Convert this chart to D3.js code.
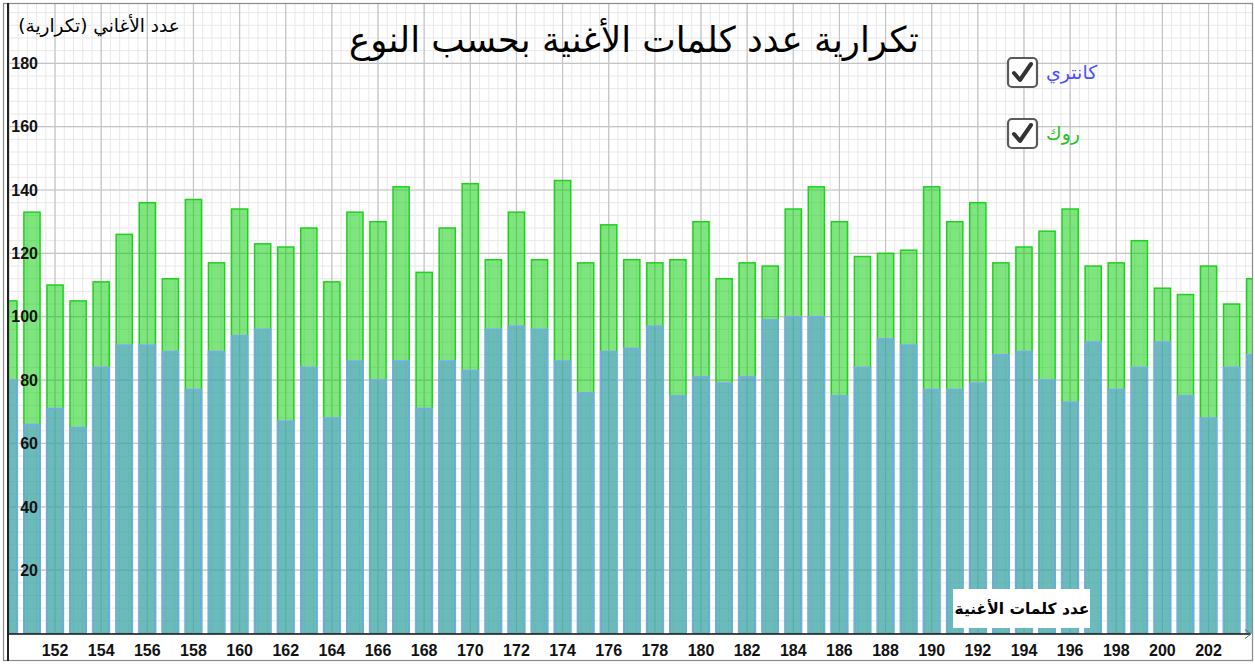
<!DOCTYPE html>
<html>
<head>
<meta charset="utf-8">
<script src="https://cdn.jsdelivr.net/npm/d3@7"></script>
<style>
  body { margin: 0; background: #fff; }
  svg { display: block; }
</style>
</head>
<body>
<svg id="chart"></svg>
<script>
const width = 1255;
const height = 664;

// word counts (x categories)
const wordCounts = [150, 151, 152, 153, 154, 155, 156, 157, 158, 159, 160, 161, 162, 163, 164,
  165, 166, 167, 168, 169, 170, 171, 172, 173, 174, 175, 176, 177, 178, 179, 180, 181, 182,
  183, 184, 185, 186, 187, 188, 189, 190, 191, 192, 193, 194, 195, 196, 197, 198, 199, 200,
  201, 202, 203, 204];

// frequency, rock songs (green)
const rock = [105, 133, 110, 105, 111, 126, 136, 112, 137, 117, 134, 123, 122, 128, 111,
  133, 130, 141, 114, 128, 142, 118, 133, 118, 143, 117, 129, 118, 117, 118, 130, 112, 117,
  116, 134, 141, 130, 119, 120, 121, 141, 130, 136, 117, 122, 127, 134, 116, 117, 124, 109,
  107, 116, 104, 112];

// frequency, country songs (blue)
const country = [80, 66, 71, 65, 84, 91, 91, 89, 77, 89, 94, 96, 67, 84, 68,
  86, 80, 86, 71, 86, 83, 96, 97, 96, 86, 76, 89, 90, 97, 75, 81, 79, 81,
  99, 100, 100, 75, 84, 93, 91, 77, 77, 79, 88, 89, 80, 73, 92, 77, 84, 92,
  75, 68, 84, 88];

const xTicks = [152, 154, 156, 158, 160, 162, 164, 166, 168, 170, 172, 174, 176, 178, 180,
  182, 184, 186, 188, 190, 192, 194, 196, 198, 200, 202];
const yTicks = [20, 40, 60, 80, 100, 120, 140, 160, 180];

const title = 'تكرارية عدد كلمات الأغنية بحسب النوع';
const yTitle = 'عدد الأغاني (تكرارية)';
const xTitle = 'عدد كلمات الأغنية';
const legendNames = ['كانتري', 'روك'];

const plotLeft = 8, plotRight = 1252, plotTop = 3, axisY = 633.5;

const x = d3.scaleLinear().domain([150, 204]).range([8.9, 8.9 + 54 * 23.07]);
const y = d3.scaleLinear().domain([0, 180]).range([axisY, 63.3]);

const svg = d3.select('#chart').attr('width', width).attr('height', height);

svg.append('defs').append('clipPath').attr('id', 'plot')
  .append('rect').attr('x', plotLeft).attr('y', plotTop)
  .attr('width', plotRight - plotLeft).attr('height', axisY - plotTop);

const plot = svg.append('g').attr('clip-path', 'url(#plot)');

// grid, minor then major
const yMax = y.invert(plotTop);
const minorX = d3.range(150, 204.5, 0.4);
const minorY = d3.range(0, yMax, 4);
plot.append('g').selectAll('line').data(minorX).join('line')
  .attr('x1', d => x(d)).attr('x2', d => x(d)).attr('y1', plotTop).attr('y2', axisY)
  .attr('stroke', '#e8e8e8').attr('stroke-width', 1);
plot.append('g').selectAll('line').data(minorY).join('line')
  .attr('y1', d => y(d)).attr('y2', d => y(d)).attr('x1', plotLeft).attr('x2', plotRight)
  .attr('stroke', '#e8e8e8').attr('stroke-width', 1);
plot.append('g').selectAll('line').data(d3.range(150, 205, 2)).join('line')
  .attr('x1', d => x(d)).attr('x2', d => x(d)).attr('y1', plotTop).attr('y2', axisY)
  .attr('stroke', '#c4c4c4').attr('stroke-width', 1.2);
plot.append('g').selectAll('line').data(d3.range(0, yMax, 20)).join('line')
  .attr('y1', d => y(d)).attr('y2', d => y(d)).attr('x1', plotLeft).attr('x2', plotRight)
  .attr('stroke', '#c4c4c4').attr('stroke-width', 1.2);

// bars
const barW = x(150.35) - x(149.65);
plot.append('g').selectAll('rect').data(wordCounts).join('rect')
  .attr('x', d => x(d) - barW / 2)
  .attr('y', (d, i) => y(rock[i]))
  .attr('width', barW)
  .attr('height', (d, i) => axisY - y(rock[i]))
  .attr('fill', 'rgba(0,205,0,0.5)')
  .attr('stroke', '#1fd01f').attr('stroke-width', 1.5);

plot.append('g').selectAll('rect').data(wordCounts).join('rect')
  .attr('x', d => x(d) - barW / 2)
  .attr('y', (d, i) => y(country[i]))
  .attr('width', barW)
  .attr('height', (d, i) => axisY - y(country[i]))
  .attr('fill', 'rgba(86,144,246,0.5)')
  .attr('stroke', '#78a8f0').attr('stroke-width', 1.5);

// axes
svg.append('line').attr('x1', plotLeft).attr('x2', plotRight - 2).attr('y1', axisY + 0.5).attr('y2', axisY + 0.5)
  .attr('stroke', '#111').attr('stroke-width', 1.3);
svg.append('path').attr('d', `M${plotRight - 7},${axisY - 4} L${plotRight - 1},${axisY + 0.5} L${plotRight - 7},${axisY + 5}`)
  .attr('fill', 'none').attr('stroke', '#666').attr('stroke-width', 1);

// frame
svg.append('rect').attr('x', 3.5).attr('y', 3.5).attr('width', plotRight - 3).attr('height', 657)
  .attr('fill', 'none').attr('stroke', '#8a8a8a').attr('stroke-width', 1.2);
svg.append('line').attr('x1', plotLeft).attr('x2', plotLeft).attr('y1', 3).attr('y2', 661)
  .attr('stroke', '#222').attr('stroke-width', 2);

// tick labels
svg.append('g').selectAll('text').data(xTicks).join('text')
  .attr('x', d => x(d)).attr('y', 656)
  .attr('text-anchor', 'middle')
  .attr('font-family', 'Liberation Sans, Arial, sans-serif')
  .attr('font-weight', 'bold').attr('font-size', 16).attr('fill', '#111')
  .text(d => d);

svg.append('g').selectAll('text').data(yTicks).join('text')
  .attr('x', 38).attr('y', d => y(d)).attr('dy', '0.36em')
  .attr('text-anchor', 'end')
  .attr('font-family', 'Liberation Sans, Arial, sans-serif')
  .attr('font-weight', 'bold').attr('font-size', 16).attr('fill', '#111')
  .text(d => d);

// titles
svg.append('text').attr('x', 634).attr('y', 52)
  .attr('text-anchor', 'middle').attr('direction', 'rtl')
  .attr('font-family', 'DejaVu Sans, sans-serif').attr('font-size', 35.5).attr('fill', '#000')
  .text(title);

svg.append('text').attr('x', 99).attr('y', 32)
  .attr('text-anchor', 'middle').attr('direction', 'rtl')
  .attr('font-family', 'DejaVu Sans, sans-serif').attr('font-size', 18.5).attr('fill', '#000')
  .text(yTitle);

svg.append('rect').attr('x', 953).attr('y', 589).attr('width', 137).attr('height', 39).attr('fill', '#fff');
svg.append('text').attr('x', 1022).attr('y', 614)
  .attr('text-anchor', 'middle').attr('direction', 'rtl')
  .attr('font-family', 'DejaVu Sans, sans-serif').attr('font-weight', 'bold').attr('font-size', 15.5).attr('fill', '#000')
  .text(xTitle);

// legend checkboxes
const legendColors = ['#4d4dff', '#22c322'];
const legendY = [73, 134];
const legend = svg.append('g').selectAll('g').data(legendNames).join('g')
  .attr('transform', (d, i) => `translate(1008, ${legendY[i]})`);
legend.append('rect').attr('x', 0).attr('y', -15).attr('width', 29).attr('height', 29).attr('rx', 4)
  .attr('fill', '#fff').attr('stroke', '#5a5a5a').attr('stroke-width', 2.2);
legend.append('path').attr('d', 'M6,0 L12,7 L23,-9')
  .attr('fill', 'none').attr('stroke', '#333').attr('stroke-width', 4)
  .attr('stroke-linecap', 'round').attr('stroke-linejoin', 'round');
legend.append('text').attr('x', 38).attr('y', 6)
  .attr('text-anchor', 'start')
  .attr('font-family', 'DejaVu Sans, sans-serif').attr('font-size', 19)
  .attr('fill', (d, i) => legendColors[i])
  .text(d => d);
</script>
</body>
</html>
